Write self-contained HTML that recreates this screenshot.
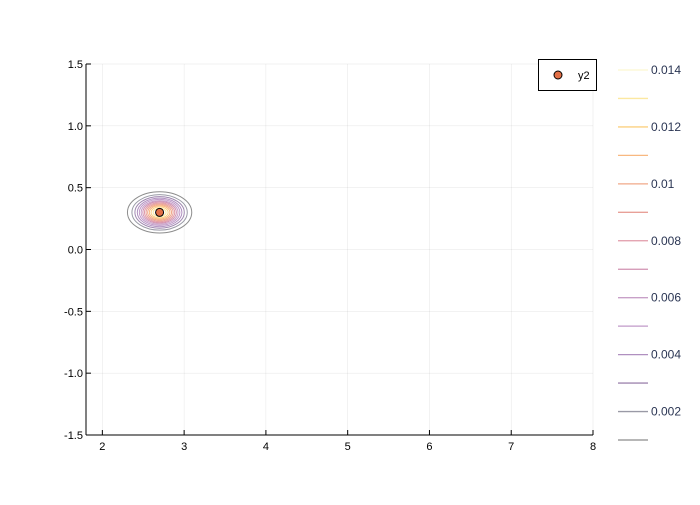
<!DOCTYPE html>
<html><head><meta charset="utf-8"><style>
body{margin:0;background:#fff;font-family:"Liberation Sans",sans-serif}
</style></head><body>
<svg id="c" width="700" height="500" xmlns="http://www.w3.org/2000/svg" font-family="Liberation Sans, sans-serif"></svg>
<script>
const xTicks=[2,3,4,5,6,7,8];
const yTicks=[-1.5,-1.0,-0.5,0.0,0.5,1.0,1.5];
const yTickLabels=["-1.5","-1.0","-0.5","0.0","0.5","1.0","1.5"];
const levels=[0.001,0.002,0.003,0.004,0.005,0.006,0.007,0.008,0.009,0.010,0.011,0.012,0.013,0.014];
const cbLabels=["0.002","0.004","0.006","0.008","0.01","0.012","0.014"];
const cbLabelValues=[0.002,0.004,0.006,0.008,0.010,0.012,0.014];
const levelColors=["#8c8c8c","#9a9aa6","#a088b0","#b090c0","#c09ac8","#c8a0c8","#d090b0","#e09aa8","#e8a098","#f0a888","#f8b880","#fcd080","#fce8a0","#fcf8d0"];
const center=[2.7,0.3];
const sigma=[0.17,0.072];
const peak=0.0145;
const points=[[2.7,0.3]];

const svg=document.getElementById('c');
const NS="http://www.w3.org/2000/svg";
const L=86,R=593,T=64,B=435;
const xs=v=>L+(v-1.8)/(8-1.8)*(R-L);
const ys=v=>B-(v+1.5)/3*(B-T);
function mk(t,a,p){const e=document.createElementNS(NS,t);for(const k in a)e.setAttribute(k,a[k]);(p||svg).appendChild(e);return e;}

// grid
xTicks.forEach(v=>{const g=mk('line',{x1:xs(v),x2:xs(v),y1:T,y2:B,stroke:'#000','stroke-opacity':0.1,'stroke-width':0.5});

});
yTicks.forEach(v=>{const g=mk('line',{x1:L,x2:R,y1:ys(v),y2:ys(v),stroke:'#000','stroke-opacity':0.1,'stroke-width':0.5});

});

// contours
levels.forEach((lv,i)=>{
  const r=Math.sqrt(2*Math.log(peak/lv));
  const cx=xs(center[0]),cy=ys(center[1]);
  const rx=xs(center[0]+sigma[0]*r)-cx, ry=cy-ys(center[1]+sigma[1]*r);
  const e=mk('ellipse',{cx:cx,cy:cy,rx:rx,ry:ry,fill:'none',stroke:levelColors[i],'stroke-width':1});
  
  
});

// axes
const ax=mk('line',{x1:L,x2:R,y1:B,y2:B,stroke:'#000','stroke-width':1});


const ay=mk('line',{x1:L,x2:L,y1:T,y2:B,stroke:'#000','stroke-width':1});


xTicks.forEach(v=>{
  mk('line',{x1:xs(v),x2:xs(v),y1:B,y2:B-5,stroke:'#000'});
  const t=mk('text',{x:xs(v),y:B+15,'font-size':11,'text-anchor':'middle',fill:'#000'});t.textContent=v;
  
  
});
yTicks.forEach((v,i)=>{
  mk('line',{x1:L,x2:L+5,y1:ys(v),y2:ys(v),stroke:'#000'});
  const t=mk('text',{x:L-3,y:ys(v)+4,'font-size':11,'text-anchor':'end',fill:'#000'});t.textContent=yTickLabels[i];
  
  
});

// points
points.forEach(p=>{const c=mk('circle',{cx:xs(p[0]),cy:ys(p[1]),r:4,fill:'#e26f46',stroke:'#000','stroke-width':1});

});

// legend
const lg=mk('g',{});


mk('rect',{x:538.5,y:59.5,width:58,height:31,fill:'#fff',stroke:'#000'},lg);
mk('circle',{cx:558,cy:75,r:4,fill:'#e26f46',stroke:'#000'},lg);
const lt=mk('text',{x:578,y:79,'font-size':11,fill:'#000'},lg);lt.textContent='y2';



// colorbar
const cbY=v=>440-(v-0.001)/(0.014-0.001)*(440-70);
levels.forEach((lv,i)=>{const l=mk('line',{x1:618,x2:648,y1:cbY(lv),y2:cbY(lv),stroke:levelColors[i],'stroke-width':1.3});

});
cbLabels.forEach((s,i)=>{const t=mk('text',{x:651,y:cbY(cbLabelValues[i])+4,'font-size':12,fill:'#2a3553'});t.textContent=s;

});
</script>
</body></html>
